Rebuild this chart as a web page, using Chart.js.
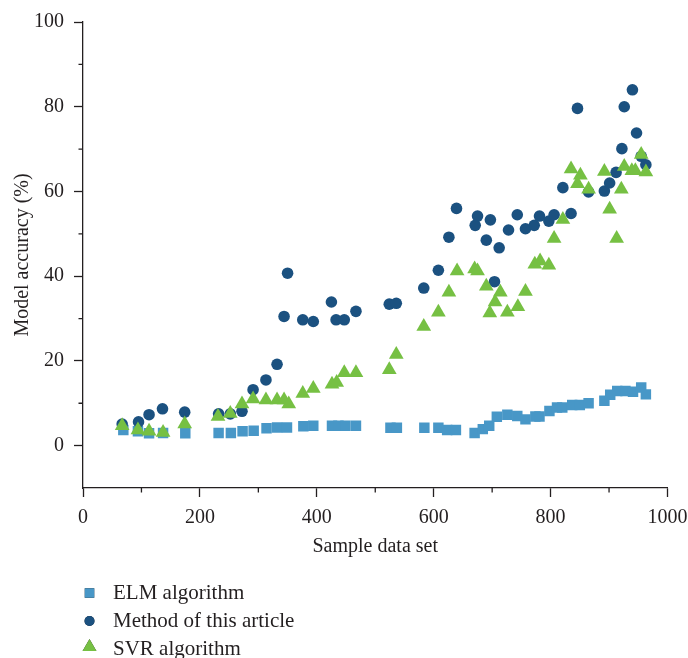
<!doctype html>
<html lang="en">
  <head>
    <meta charset="utf-8">
    <title>Model accuracy</title>
    <style>
      html, body { margin: 0; padding: 0; background: #fff; }
      #wrap { width: 688px; height: 658px; }
    </style>
  </head>
  <body>
    <div id="wrap">
      <canvas id="myChart" width="688" height="658"></canvas>
    </div>

    <script src="https://cdn.jsdelivr.net/npm/chart.js"></script>
    <script>
        // values
        var elmX = [69, 94, 113, 137, 175, 232, 253, 273, 292, 314, 332, 349, 377, 394, 426, 437, 449, 467, 526, 537, 584, 608, 623, 638, 670, 684, 695, 708, 726, 743, 757, 774, 781, 798, 811, 820, 837, 850, 865, 892, 902, 914, 928, 941, 955, 963];
        var elmY = [3.7, 3.4, 2.9, 3.0, 2.9, 3.0, 3.0, 3.4, 3.5, 4.1, 4.3, 4.3, 4.6, 4.7, 4.7, 4.7, 4.7, 4.7, 4.2, 4.2, 4.2, 4.2, 3.7, 3.7, 3.0, 3.9, 4.7, 6.8, 7.3, 7.0, 6.2, 6.9, 6.9, 8.2, 9.0, 9.0, 9.6, 9.6, 10.0, 10.6, 12.0, 12.9, 12.9, 12.7, 13.7, 12.1];

        var methodX = [67, 95, 113, 136, 174, 232, 252, 272, 291, 313, 332, 344, 350, 376, 394, 425, 433, 447, 467, 524, 536, 583, 608, 626, 639, 671, 675, 690, 697, 704, 712, 728, 743, 757, 772, 781, 797, 806, 821, 835, 846, 865, 892, 901, 912, 922, 926, 940, 947, 955, 963];
        var methodY = [5.1, 5.6, 7.3, 8.7, 7.9, 7.5, 7.5, 8.1, 13.2, 15.5, 19.2, 30.5, 40.7, 29.7, 29.3, 33.9, 29.7, 29.7, 31.7, 33.4, 33.6, 37.2, 41.4, 49.2, 56.0, 52.0, 54.2, 48.5, 53.3, 38.7, 46.7, 50.9, 54.5, 51.2, 52.0, 54.2, 53.0, 54.5, 60.9, 54.8, 79.6, 59.9, 60.1, 62.0, 64.5, 70.1, 80.0, 84.0, 73.8, 68.3, 66.3];

        var svrX = [67, 94, 113, 137, 174, 231, 252, 272, 291, 313, 332, 344, 352, 376, 394, 426, 434, 447, 467, 524, 536, 583, 608, 626, 640, 670, 675, 690, 696, 705, 714, 726, 744, 757, 773, 782, 797, 806, 821, 835, 846, 851, 865, 892, 901, 913, 921, 926, 939, 945, 955, 963];
        var svrY = [4.7, 3.7, 3.4, 3.1, 5.1, 6.9, 7.6, 9.8, 11.0, 10.8, 10.8, 10.8, 9.8, 12.3, 13.5, 14.5, 14.9, 17.2, 17.2, 17.9, 21.5, 28.1, 31.5, 36.2, 41.2, 41.7, 41.2, 37.6, 31.3, 33.9, 36.2, 31.5, 32.8, 36.4, 42.8, 43.6, 42.6, 48.9, 53.4, 65.3, 61.8, 63.8, 60.5, 64.7, 55.8, 48.9, 60.5, 65.9, 64.9, 64.9, 68.7, 64.6];

        var seriesNames = ['ELM algorithm', 'Method of this article', 'SVR algorithm'];
        var xMinor = [100, 300, 500, 700, 900];
        var yMinor = [10, 30, 50, 70, 90];

        var ink = '#231f20';
        var fontFamily = '"Liberation Serif", "DejaVu Serif", serif';

        function toPoints(xs, ys) {
            return xs.map(function (x, i) { return { x: x, y: ys[i] }; });
        }

        // small ticks between the labelled ones, plus the legend list below the axis
        var extras = {
            id: 'extras',
            afterDraw: function (chart) {
                var ctx = chart.ctx;
                var xs = chart.scales.x, ys = chart.scales.y;
                ctx.save();
                ctx.strokeStyle = ink;
                ctx.lineWidth = 1.3;
                ctx.beginPath();
                xMinor.forEach(function (v) {
                    var px = xs.getPixelForValue(v);
                    ctx.moveTo(px, xs.top);
                    ctx.lineTo(px, xs.top + 4.5);
                });
                yMinor.forEach(function (v) {
                    var py = ys.getPixelForValue(v);
                    ctx.moveTo(ys.right, py);
                    ctx.lineTo(ys.right - 4.5, py);
                });
                ctx.stroke();

                var rows = [593, 621, 649];
                var radii = [6.7, 5, 8];
                var shift = [0, 0, -2];
                ctx.font = '21px ' + fontFamily;
                ctx.textBaseline = 'middle';
                ctx.textAlign = 'left';
                chart.data.datasets.forEach(function (ds, i) {
                    Chart.helpers.drawPoint(ctx, {
                        pointStyle: ds.pointStyle,
                        radius: radii[i],
                        borderWidth: 0,
                        rotation: 0
                    }, 89.5, rows[i] + shift[i]);
                    ctx.fillStyle = ds.backgroundColor;
                    ctx.fill();
                    ctx.fillStyle = ink;
                    ctx.fillText(ds.label, 113, rows[i]);
                });
                ctx.restore();
            }
        };

        const ctx = document.getElementById('myChart');
        new Chart(ctx, {
            type: 'scatter',
            data: {
                datasets: [
                    {
                        label: seriesNames[0],
                        data: toPoints(elmX, elmY),
                        pointStyle: 'rect',
                        pointRadius: 7.4,
                        backgroundColor: '#4897c7',
                        borderWidth: 0,
                        order: 3
                    },
                    {
                        label: seriesNames[1],
                        data: toPoints(methodX, methodY),
                        pointStyle: 'circle',
                        pointRadius: 5.8,
                        backgroundColor: '#1b5180',
                        borderWidth: 0,
                        order: 2
                    },
                    {
                        label: seriesNames[2],
                        data: toPoints(svrX, svrY),
                        pointStyle: 'triangle',
                        pointRadius: 8.5,
                        backgroundColor: '#76c043',
                        borderWidth: 0,
                        order: 1
                    }
                ]
            },
            options: {
                responsive: false,
                animation: false,
                layout: { padding: { top: 19, right: 20.5, bottom: 96, left: 0 } },
                plugins: {
                    legend: { display: false },
                    tooltip: { enabled: false }
                },
                scales: {
                    x: {
                        type: 'linear',
                        min: 0,
                        max: 1000,
                        afterFit: function (s) {
                            s.height = 74;
                            // let the "1000" label run into the right margin like the original
                            s.paddingLeft = 0;
                            s.paddingRight = 0;
                        },
                        border: { display: true, color: ink, width: 1.3 },
                        grid: { drawOnChartArea: false, tickLength: 9, tickColor: ink, tickWidth: 1.3 },
                        ticks: {
                            stepSize: 200,
                            padding: 9,
                            maxRotation: 0,
                            color: ink,
                            font: { family: fontFamily, size: 20 },
                            callback: function (v) { return String(v); }
                        },
                        title: {
                            display: true,
                            text: 'Sample data set',
                            color: ink,
                            font: { family: fontFamily, size: 20 },
                            padding: { top: 0, bottom: 3 }
                        }
                    },
                    y: {
                        min: -10,
                        max: 100,
                        afterFit: function (s) { s.width = 83; },
                        afterBuildTicks: function (s) {
                            s.ticks = s.ticks.filter(function (t) { return t.value >= 0; });
                        },
                        border: { display: true, color: ink, width: 1.3 },
                        grid: { drawOnChartArea: false, tickLength: 9, tickColor: ink, tickWidth: 1.3 },
                        ticks: {
                            stepSize: 20,
                            padding: 10,
                            color: ink,
                            font: { family: fontFamily, size: 20 },
                            callback: function (v) { return String(v); }
                        },
                        title: {
                            display: true,
                            text: 'Model accuracy (%)',
                            color: ink,
                            font: { family: fontFamily, size: 20 },
                            padding: { top: 11, bottom: 0 }
                        }
                    }
                }
            },
            plugins: [extras]
        });
    </script>
  </body>
</html>
